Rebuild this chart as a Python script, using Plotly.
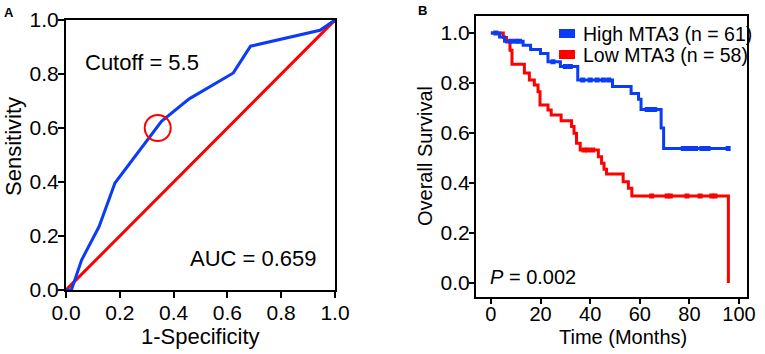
import plotly.graph_objects as go

# ---------------- Panel A: ROC curve ----------------
roc_fpr = [0.0, 0.02, 0.058, 0.123, 0.182, 0.355, 0.458, 0.622, 0.686, 0.944, 1.0]
roc_tpr = [0.0, 0.0, 0.111, 0.235, 0.396, 0.625, 0.708, 0.804, 0.903, 0.962, 1.0]
ref_x = [0.0, 1.0]
ref_y = [0.0, 1.0]
cutoff_x = [0.341]
cutoff_y = [0.600]
roc_ticks = [0.0, 0.2, 0.4, 0.6, 0.8, 1.0]

# ---------------- Panel B: Kaplan-Meier ----------------
high_times = [0, 3.5, 5.5, 13, 16, 20, 23, 28, 35, 49, 56.5, 59.5, 60.5, 68.6, 69.6, 95.6]
high_surv = [1.0, 0.984, 0.967, 0.951, 0.934, 0.918, 0.885, 0.866, 0.812, 0.786, 0.758, 0.735, 0.694, 0.62, 0.538, 0.538]
high_censor = [2, 8, 10, 11.5, 25, 30, 32, 37, 40, 42.8, 45.3, 47.5, 63, 64.5, 66, 77.5, 79, 80, 81, 82.5, 85, 86.5, 87.5, 95.6]

low_times = [0, 5, 6.3, 7.7, 8.5, 13.5, 15.5, 17.5, 19, 19.8, 23, 24.3, 28.3, 32.5, 33.5, 34.5, 36, 43.3, 44.6, 45.6, 46.6, 53.3, 55.4, 56.8, 95.7]
low_surv = [1.0, 0.982, 0.964, 0.931, 0.875, 0.84, 0.812, 0.792, 0.765, 0.712, 0.692, 0.672, 0.649, 0.626, 0.599, 0.559, 0.532, 0.505, 0.479, 0.455, 0.436, 0.405, 0.379, 0.348, 0.0]
low_censor = [37.5, 39, 41, 64.8, 71, 72.3, 79, 84.3, 89, 90.3]

km_xticks = [0, 20, 40, 60, 80, 100]
km_yticks = [0.0, 0.2, 0.4, 0.6, 0.8, 1.0]

BLUE = "#0a3cf5"
RED = "#ff0000"
FONT = "Liberation Sans, Arial, sans-serif"
W, H = 765, 354


def surv_at(times, surv, t):
    s = surv[0]
    for ti, si in zip(times, surv):
        if ti <= t:
            s = si
    return s


fig = go.Figure()

# Panel A traces
fig.add_trace(go.Scatter(x=ref_x, y=ref_y, mode="lines", line=dict(color=RED, width=3),
                         xaxis="x", yaxis="y", showlegend=False, cliponaxis=False))
fig.add_trace(go.Scatter(x=roc_fpr, y=roc_tpr, mode="lines", line=dict(color=BLUE, width=3),
                         xaxis="x", yaxis="y", showlegend=False, cliponaxis=False))
fig.add_trace(go.Scatter(x=cutoff_x, y=cutoff_y, mode="markers",
                         marker=dict(symbol="circle-open", size=26, color=RED, line=dict(color=RED, width=2)),
                         xaxis="x", yaxis="y", showlegend=False))

# Panel B traces (low first so high drawn on top)
fig.add_trace(go.Scatter(x=low_times, y=low_surv, mode="lines", line=dict(color=RED, width=3, shape="hv"),
                         xaxis="x2", yaxis="y2", showlegend=False))
fig.add_trace(go.Scatter(x=low_censor, y=[surv_at(low_times[:-1], low_surv[:-1], t) for t in low_censor],
                         mode="markers", marker=dict(symbol="square", size=5, color=RED),
                         xaxis="x2", yaxis="y2", showlegend=False))
fig.add_trace(go.Scatter(x=high_times, y=high_surv, mode="lines", line=dict(color=BLUE, width=3, shape="hv"),
                         xaxis="x2", yaxis="y2", showlegend=False))
fig.add_trace(go.Scatter(x=high_censor, y=[surv_at(high_times, high_surv, t) for t in high_censor],
                         mode="markers", marker=dict(symbol="square", size=5, color=BLUE),
                         xaxis="x2", yaxis="y2", showlegend=False))


def axis_style(size, ticklen, standoff):
    return dict(showline=True, linecolor="black", linewidth=2, mirror=True,
                ticks="outside", ticklen=ticklen, tickwidth=2, tickcolor="black",
                showgrid=False, zeroline=False, automargin=False, ticklabelstandoff=standoff,
                tickfont=dict(family=FONT, size=size, color="black"))


def px_x(p):
    return p / W


def px_y(p):
    return (H - p) / H


fig.update_layout(
    width=W, height=H,
    margin=dict(l=0, r=0, t=0, b=0, pad=0),
    paper_bgcolor="white", plot_bgcolor="white",
    font=dict(family=FONT, color="black"),
    xaxis=dict(domain=[px_x(66), px_x(335)], range=[0, 1], tickvals=roc_ticks, tickformat=".1f",
               anchor="y", **axis_style(21, 6, -3)),
    yaxis=dict(domain=[px_y(290), px_y(20)], range=[0, 1], tickvals=roc_ticks, tickformat=".1f",
               anchor="x", **axis_style(21, 6, -5)),
    xaxis2=dict(domain=[px_x(476), px_x(747)], range=[-6.0, 103.2], tickvals=km_xticks,
                anchor="y2", **axis_style(20, 5, -7)),
    yaxis2=dict(domain=[px_y(297), px_y(16)], range=[-0.056, 1.068], tickvals=km_yticks, tickformat=".1f",
                anchor="x2", **axis_style(21, 5, -5)),
)

ann = []
ann.append(dict(text="Cutoff = 5.5", x=0.063, y=0.844, xref="x", yref="y", xanchor="left", yanchor="middle",
                showarrow=False, font=dict(size=22, family=FONT)))
ann.append(dict(text="AUC = 0.659", x=0.4535, y=0.1185, xref="x", yref="y", xanchor="left", yanchor="middle",
                showarrow=False, font=dict(size=22, family=FONT)))
ann.append(dict(text="1-Specificity", x=px_x(200), y=px_y(336), xref="paper", yref="paper",
                xanchor="center", yanchor="middle", showarrow=False, font=dict(size=22, family=FONT)))
ann.append(dict(text="Sensitivity", x=px_x(13), y=px_y(147), xref="paper", yref="paper", textangle=-90,
                xanchor="center", yanchor="middle", showarrow=False, font=dict(size=22, family=FONT)))
ann.append(dict(text="<i>P</i> = 0.002", x=-1.2, y=0.024, xref="x2", yref="y2", xanchor="left", yanchor="middle",
                showarrow=False, font=dict(size=20, family=FONT)))
ann.append(dict(text="Time (Months)", x=px_x(623), y=px_y(337), xref="paper", yref="paper",
                xanchor="center", yanchor="middle", showarrow=False, font=dict(size=20, family=FONT)))
ann.append(dict(text="Overall Survival", x=px_x(425), y=px_y(156), xref="paper", yref="paper", textangle=-90,
                xanchor="center", yanchor="middle", showarrow=False, font=dict(size=20, family=FONT)))
ann.append(dict(text="High MTA3 (n = 61)", x=px_x(581), y=px_y(34), xref="paper", yref="paper",
                xanchor="left", yanchor="middle", showarrow=False, font=dict(size=19.5, family=FONT)))
ann.append(dict(text="Low MTA3 (n = 58)", x=px_x(581), y=px_y(55), xref="paper", yref="paper",
                xanchor="left", yanchor="middle", showarrow=False, font=dict(size=19.5, family=FONT)))
ann.append(dict(text="<b>A</b>", x=px_x(9), y=px_y(12), xref="paper", yref="paper",
                xanchor="center", yanchor="middle", showarrow=False, font=dict(size=13, family=FONT)))
ann.append(dict(text="<b>B</b>", x=px_x(422), y=px_y(11), xref="paper", yref="paper",
                xanchor="center", yanchor="middle", showarrow=False, font=dict(size=13, family=FONT)))
fig.update_layout(annotations=ann)

shapes = [
    dict(type="rect", xref="paper", yref="paper", x0=px_x(559), x1=px_x(575), y0=px_y(38), y1=px_y(29),
         fillcolor=BLUE, line=dict(width=0)),
    dict(type="rect", xref="paper", yref="paper", x0=px_x(559), x1=px_x(575), y0=px_y(59), y1=px_y(50),
         fillcolor=RED, line=dict(width=0)),
]
fig.update_layout(shapes=shapes)

# remove the default page margin so the figure sits at the window's top-left corner
fig.write_html("out.html", config={"displayModeBar": False},
               post_script="document.body.style.margin='0px';")
